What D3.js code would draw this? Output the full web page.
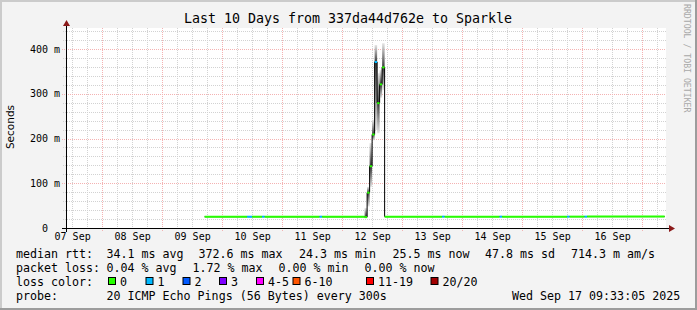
<!DOCTYPE html>
<html><head><meta charset="utf-8">
<script src="https://cdn.jsdelivr.net/npm/d3@7"></script>
<style>
html,body{margin:0;padding:0;background:#f3f3f3;}
svg{display:block;}
</style></head><body>
<svg id="c" width="697" height="310"></svg>
<script>
// ---------------- DATA ----------------
const titleText = "Last 10 Days from 337da44d762e to Sparkle";
const startTime = "2025-09-07T09:33:05Z";
const endTime   = "2025-09-17T09:33:05Z";
const yTicks = [0, 100, 200, 300, 400];
const yTickLabels = ["0\u00a0\u00a0", "100 m", "200 m", "300 m", "400 m"];

// median rtt steps (ms) : step start time, value, loss band index
const medTime = [
  "2025-09-09T17:00Z","2025-09-10T10:00Z","2025-09-10T12:00Z","2025-09-10T16:00Z","2025-09-10T17:00Z",
  "2025-09-11T15:00Z","2025-09-11T16:00Z","2025-09-12T09:00Z","2025-09-12T10:00Z","2025-09-12T11:00Z",
  "2025-09-12T12:00Z","2025-09-12T13:00Z","2025-09-12T14:00Z","2025-09-12T15:00Z","2025-09-12T16:00Z",
  "2025-09-12T17:00Z","2025-09-13T16:00Z","2025-09-13T17:00Z","2025-09-14T15:00Z","2025-09-14T16:00Z",
  "2025-09-15T18:00Z","2025-09-15T19:00Z","2025-09-16T01:00Z","2025-09-16T02:00Z","2025-09-17T09:00Z"];
const medValue = [25.2, 25.2, 25.2, 25.3, 25.2, 25.3, 25.2, 24.3, 79, 138, 209, 371, 279, 321, 359,
  25.4, 25.4, 25.4, 25.4, 25.4, 25.4, 25.4, 25.4, 25.5, null];
const medLoss  = [0, 1, 0, 1, 0, 1, 0, 0, 0, 0, 0, 1, 0, 0, 0, 0, 1, 0, 1, 0, 1, 0, 1, 0, null];

// smoke (min / max ping) for visible steps
const smokeTime = ["2025-09-12T09:00Z","2025-09-12T10:00Z","2025-09-12T11:00Z","2025-09-12T12:00Z",
  "2025-09-12T13:00Z","2025-09-12T14:00Z","2025-09-12T15:00Z","2025-09-12T16:00Z"];
const smokeEnd  = ["2025-09-12T10:00Z","2025-09-12T11:00Z","2025-09-12T12:00Z","2025-09-12T13:00Z",
  "2025-09-12T14:00Z","2025-09-12T15:00Z","2025-09-12T16:00Z","2025-09-12T17:00Z"];
const smokeMed  = [24.3, 79, 138, 209, 371, 279, 321, 359];
const smokeLo   = [23.5, 48, 92, 196, 219, 212, 291, 308];
const smokeHi   = [45, 92, 190, 242, 409, 346, 353, 413];

const lossLabels = ["0", "1", "2", "3", "4-5", "6-10", "11-19", "20/20"];
const lossColors = ["#26ff00", "#00b8ff", "#0059ff", "#7e00ff", "#ff00ff", "#ff5500", "#ff0000", "#a10000"];

const legendRows = [
  [["median rtt:",16],["34.1 ms avg",106.5],["372.6 ms max",198.5],["24.3 ms min",299],["25.5 ms now",392.5],["47.8 ms sd",485],["714.3 m am/s",571]],
  [["packet loss:",16],["0.04 % avg",106.5],["1.72 % max",192.5],["0.00 % min",278.5],["0.00 % now",364.5]],
  [["loss color:",16]],
  [["probe:",16],["20 ICMP Echo Pings (56 Bytes) every 300s",106.5],["Wed Sep 17 09:33:05 2025",512]]
];
const lossBoxX = [108, 145.5, 182.5, 219, 256, 292.5, 366, 430.5];

// ---------------- CHART ----------------
const svg = d3.select("#c");
const W = 697, H = 310;
const mono = "'DejaVu Sans Mono', monospace";
const P = d3.isoParse;

svg.append("rect").attr("width", W).attr("height", H).attr("fill", "#f3f3f3");
svg.append("rect").attr("x",0).attr("y",0).attr("width",W).attr("height",2).attr("fill","#cbcbcb");
svg.append("rect").attr("x",0).attr("y",0).attr("width",2).attr("height",H).attr("fill","#cbcbcb");
svg.append("rect").attr("x",0).attr("y",H-2).attr("width",W).attr("height",2).attr("fill","#9c9c9c");
svg.append("rect").attr("x",W-2).attr("y",0).attr("width",2).attr("height",H).attr("fill","#9c9c9c");

const x = d3.scaleUtc().domain([P(startTime), P(endTime)]).range([66, 666]);
const y = d3.scaleLinear().domain([0, 447]).range([228, 28]);

svg.append("rect").attr("x", 66).attr("y", 28).attr("width", 600).attr("height", 200).attr("fill", "#fff");

// grid
const g = svg.append("g").attr("shape-rendering", "crispEdges");
const minorX = d3.utcHour.every(6).range(P(startTime), P(endTime)).filter(d => d.getUTCHours() !== 0);
const majorX = d3.utcDay.range(P(startTime), P(endTime));
g.selectAll(".mx").data(minorX).join("line")
  .attr("x1", d => Math.round(x(d)) + 0.5).attr("x2", d => Math.round(x(d)) + 0.5)
  .attr("y1", 28).attr("y2", 230)
  .attr("stroke", "#d2d2d2").attr("stroke-dasharray", "1,1");
const minorY = d3.range(20, 447, 20).filter(v => v % 100 !== 0);
g.selectAll(".my").data(minorY).join("line")
  .attr("x1", 63).attr("x2", 666)
  .attr("y1", d => Math.round(y(d)) + 0.5).attr("y2", d => Math.round(y(d)) + 0.5)
  .attr("stroke", "#d2d2d2").attr("stroke-dasharray", "1,1");
g.selectAll(".Mx").data(majorX).join("line")
  .attr("x1", d => Math.round(x(d)) + 0.5).attr("x2", d => Math.round(x(d)) + 0.5)
  .attr("y1", 28).attr("y2", 231)
  .attr("stroke", "#f4b2b2").attr("stroke-dasharray", "1,1");
g.selectAll(".My").data(yTicks.filter(v => v > 0)).join("line")
  .attr("x1", 62).attr("x2", 666)
  .attr("y1", d => Math.round(y(d)) + 0.5).attr("y2", d => Math.round(y(d)) + 0.5)
  .attr("stroke", "#f4b2b2").attr("stroke-dasharray", "1,1");

// smoke
const defs = svg.append("defs");
smokeTime.forEach((t, i) => {
  const yh = y(smokeHi[i]), yl = y(smokeLo[i]);
  const off = (y(smokeMed[i]) - yh) / Math.max(1, (yl - yh));
  const gr = defs.append("linearGradient").attr("id", "sm" + i)
    .attr("gradientUnits", "userSpaceOnUse").attr("x1", 0).attr("x2", 0).attr("y1", yh).attr("y2", yl);
  gr.append("stop").attr("offset", 0).attr("stop-color", "#e6e6e6");
  gr.append("stop").attr("offset", off).attr("stop-color", "#3a3a3a");
  gr.append("stop").attr("offset", 1).attr("stop-color", "#e6e6e6");
  svg.append("rect")
    .attr("x", x(P(t))).attr("width", x(P(smokeEnd[i])) - x(P(t)))
    .attr("y", yh).attr("height", yl - yh)
    .attr("fill", "url(#sm" + i + ")");
});

// median step line (black)
const pts = medTime.map((t, i) => ({t: P(t), v: medValue[i] === null ? medValue[i - 1] : medValue[i]}));
svg.append("path").datum(pts)
  .attr("d", d3.line().x(d => x(d.t)).y(d => y(d.v)).curve(d3.curveStepAfter))
  .attr("fill", "none").attr("stroke", "#000").attr("stroke-width", 1);

// loss-coloured median segments
const segs = medTime.slice(0, -1).map((t, i) => ({t0: P(t), t1: P(medTime[i + 1]), v: medValue[i], l: medLoss[i]}));
svg.selectAll(".seg").data(segs).join("line")
  .attr("x1", d => x(d.t0)).attr("x2", d => x(d.t1))
  .attr("y1", d => y(d.v)).attr("y2", d => y(d.v))
  .attr("stroke", d => lossColors[d.l]).attr("stroke-width", 2);

// axes labels via d3 axes
const noons = d3.utcDay.range(d3.utcDay.floor(P(startTime)), P(endTime))
  .map(d => d3.utcHour.offset(d, 12)).filter(d => d <= P(endTime));
const xa = svg.append("g").attr("transform", "translate(0,228)")
  .call(d3.axisBottom(x).tickValues(noons).tickSize(0).tickPadding(5).tickFormat(d3.utcFormat("%d %b")));
xa.select(".domain").remove();
xa.selectAll("text").attr("font-family", mono).attr("font-size", 10).attr("fill", "#000");

const ya = svg.append("g").attr("transform", "translate(66,0)")
  .call(d3.axisLeft(y).tickValues(yTicks).tickSize(0).tickPadding(6).tickFormat((d, i) => yTickLabels[i]));
ya.select(".domain").remove();
ya.selectAll("text").attr("font-family", mono).attr("font-size", 10).attr("fill", "#000");

// axis lines + arrows
const ax = svg.append("g").attr("shape-rendering", "crispEdges");
ax.append("line").attr("x1", 62).attr("x2", 670).attr("y1", 228.5).attr("y2", 228.5).attr("stroke", "#000");
ax.append("line").attr("x1", 66.5).attr("x2", 66.5).attr("y1", 232).attr("y2", 25).attr("stroke", "#000");
svg.append("path").attr("d", "M669,225 L675,228.5 L669,232 Z").attr("fill", "#8b1a1a");
svg.append("path").attr("d", "M63,26 L66.5,20 L70,26 Z").attr("fill", "#8b1a1a");

// title
svg.append("text").attr("x", 348).attr("y", 23).attr("text-anchor", "middle")
  .attr("font-family", mono).attr("font-size", 13.3).attr("fill", "#000").text(titleText);

// y label
svg.append("text").attr("transform", "translate(14,127) rotate(-90)").attr("text-anchor", "middle")
  .attr("font-family", "'DejaVu Sans', sans-serif").attr("font-size", 10.5).attr("fill", "#000").text("Seconds");

// watermark
svg.append("text").attr("transform", "translate(684,4) rotate(90)")
  .attr("font-family", mono).attr("font-size", 8.2).attr("fill", "#a8a8a8").text("RRDTOOL / TOBI OETIKER");

// legend
const rowY = [257.5, 271.5, 285.5, 299.5];
legendRows.forEach((row, r) => {
  row.forEach(([txt, lx]) => {
    svg.append("text").attr("x", lx).attr("y", rowY[r]).attr("font-family", mono)
      .attr("font-size", 11.65).attr("fill", "#000").attr("xml:space", "preserve").text(txt);
  });
});
lossLabels.forEach((lab, i) => {
  svg.append("rect").attr("x", lossBoxX[i] + 0.5).attr("y", 277.5).attr("width", 7).attr("height", 7)
    .attr("fill", lossColors[i]).attr("stroke", "#000").attr("stroke-width", 1);
  svg.append("text").attr("x", lossBoxX[i] + 12).attr("y", rowY[2]).attr("font-family", mono)
    .attr("font-size", 11.65).attr("fill", "#000").text(lab);
});
</script>
</body></html>
